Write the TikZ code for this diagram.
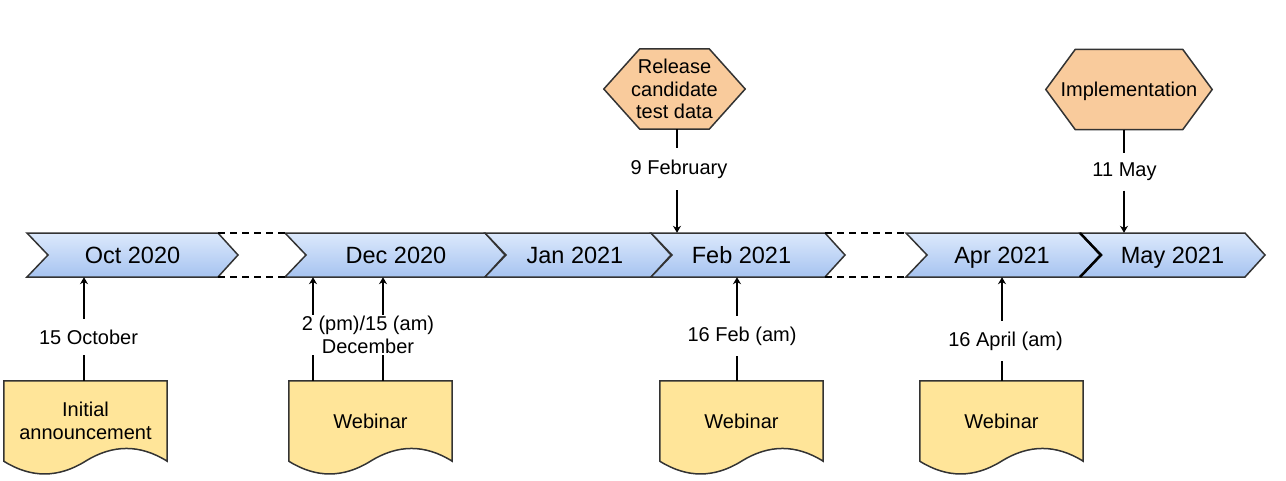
\documentclass[tikz,border=0pt]{standalone}
\usepackage{fontspec}
\setmainfont{Liberation Sans}
\usetikzlibrary{arrows.meta,calc}
\pgfdeclarelayer{background}
\pgfsetlayers{background,main}
\definecolor{chevtop}{HTML}{DCE9FC}
\definecolor{chevbot}{HTML}{A6C3F0}
\definecolor{docfill}{HTML}{FFE599}
\definecolor{hexfill}{HTML}{F9CB9C}
\definecolor{edgecol}{HTML}{333333}
\tikzset{
  chev/.style={minimum height=44pt, inner sep=0pt, text height=16.8pt, text depth=0pt, font=\fontsize{23.5}{28}\selectfont},
  docbox/.style={minimum width=163pt, minimum height=80pt, inner sep=0pt, align=center, font=\fontsize{20}{22.5}\selectfont},
  hexbox/.style={minimum height=80pt, inner sep=0pt, align=center, font=\fontsize{20}{22.5}\selectfont},
  lab/.style={inner sep=0pt, align=center, font=\fontsize{20}{22.5}\selectfont},
  chevfill/.style={draw=edgecol, line width=1.5pt, line join=miter, top color=chevtop, bottom color=chevbot},
  docstyle/.style={draw=edgecol, line width=1.5pt, fill=docfill},
  hexstyle/.style={draw=edgecol, line width=1.5pt, fill=hexfill},
  arr/.style={line width=1.6pt, -{Stealth[length=7pt,width=8pt]}},
  plain/.style={line width=1.6pt},
  gapline/.style={line width=1.5pt, dash pattern=on 7pt off 5pt},
}
\newcommand\chevshape[3]{%
  \coordinate (#1-tl) at (#2,233); \coordinate (#1-tr) at (#3,233);
  \coordinate (#1-bl) at (#2,277); \coordinate (#1-br) at (#3,277);
  \path[chevfill] (#1-tl) -- (#1-tr) -- ($(#1-tr)!0.5!(#1-br)+(20,0)$) -- (#1-br) -- (#1-bl) -- ($(#1-tl)!0.5!(#1-bl)+(21,0)$) -- cycle;}
\newcommand\docshape[1]{%
  \path[docstyle] (#1.south west) -- (#1.north west) -- (#1.north east) -- (#1.south east)
    .. controls ([shift={(-27.17,-17)}]#1.south east) and ([shift={(-54.33,-17)}]#1.south east) .. (#1.south)
    .. controls ([shift={(54.33,17)}]#1.south west) and ([shift={(27.17,17)}]#1.south west) .. (#1.south west) -- cycle;}
\newcommand\hexshape[2]{%
  \path[hexstyle] ([xshift=#2pt]#1.north west) -- ([xshift=-#2pt]#1.north east) -- (#1.east)
    -- ([xshift=-#2pt]#1.south east) -- ([xshift=#2pt]#1.south west) -- (#1.west) -- cycle;}
\begin{document}
\begin{tikzpicture}[x=1pt,y=-1pt]
\useasboundingbox (0,0) rectangle (1286,480);
% chevron labels
\node[chev] (oct) at (132.5,255) {Oct 2020};
\node[chev] (dec) at (396,255) {Dec 2020};
\node[chev] (jan) at (575,255) {Jan 2021};
\node[chev] (feb) at (741.5,255) {Feb 2021};
\node[chev] (apr) at (1002,255) {Apr 2021};
\node[chev] (may) at (1172.5,255) {May 2021};
% documents
\node[docbox] (d1) at (85.5,421) {Initial\\announcement};
\node[docbox] (d2) at (370.5,421) {Webinar};
\node[docbox] (d3) at (741.5,421) {Webinar};
\node[docbox] (d4) at (1001.5,421) {Webinar};
% hexagons
\node[hexbox, minimum width=141pt] (h1) at (674.5,89) {Release\\candidate\\test data};
\node[hexbox, minimum width=166pt, text height=14.5pt, text depth=0pt] (h2) at (1129,89.5) {Implementation};
% labels
\node[lab, minimum height=36pt] (l1) at (88.5,337) {15 October};
\node[lab, minimum height=40pt] (l2) at (368,335) {2 (pm)/15 (am)\\December};
\node[lab, minimum height=40pt] (l3) at (742,336) {16 Feb (am)};
\node[lab, minimum height=40pt] (l4) at (1005.5,341) {16 April (am)};
\node[lab, minimum height=42pt] (l5) at (679,169) {9 February};
\node[lab, minimum height=37pt] (l6) at (1124.5,172) {11 May};
\begin{pgfonlayer}{background}
  \chevshape{coct}{27}{218}
  \chevshape{cdec}{285}{485}
  \chevshape{cjan}{485}{651}
  \chevshape{cfeb}{651}{825}
  \chevshape{capr}{906}{1080}
  \chevshape{cmay}{1080}{1245}
  \draw[draw=black, line width=2.5pt] (cmay-tl) -- ($(cmay-tl)!0.5!(cmay-bl)+(21,0)$) -- (cmay-bl);
  \docshape{d1}\docshape{d2}\docshape{d3}\docshape{d4}
  \hexshape{h1}{36}
  \hexshape{h2}{29.5}
\end{pgfonlayer}
% dashed gaps
\draw[gapline] (coct-tr) -- (cdec-tl);
\draw[gapline] (coct-br) -- (cdec-bl);
\draw[gapline] (cfeb-tr) -- (capr-tl);
\draw[gapline] (cfeb-br) -- (capr-bl);
% connectors
\coordinate (x1) at (84,0);
\coordinate (x2a) at (313,0);
\coordinate (x2b) at (383,0);
\coordinate (x3) at (737,0);
\coordinate (x4) at (1002,0);
\coordinate (x5) at (677,0);
\coordinate (x6) at (1124,0);
\draw[plain] (x1 |- d1.north) -- (x1 |- l1.south);
\draw[arr] (x1 |- l1.north) -- (x1 |- oct.south);
\draw[plain] (x2a |- d2.north) -- (x2a |- l2.south);
\draw[arr] (x2a |- l2.north) -- (x2a |- dec.south);
\draw[plain] (x2b |- d2.north) -- (x2b |- l2.south);
\draw[arr] (x2b |- l2.north) -- (x2b |- dec.south);
\draw[plain] (x3 |- d3.north) -- (x3 |- l3.south);
\draw[arr] (x3 |- l3.north) -- (x3 |- feb.south);
\draw[plain] (x4 |- d4.north) -- (x4 |- l4.south);
\draw[arr] (x4 |- l4.north) -- (x4 |- apr.south);
\draw[plain] (x5 |- h1.south) -- (x5 |- l5.north);
\draw[arr] (x5 |- l5.south) -- (x5 |- feb.north);
\draw[plain] (x6 |- h2.south) -- (x6 |- l6.north);
\draw[arr] (x6 |- l6.south) -- (x6 |- may.north);
\end{tikzpicture}
\end{document}
